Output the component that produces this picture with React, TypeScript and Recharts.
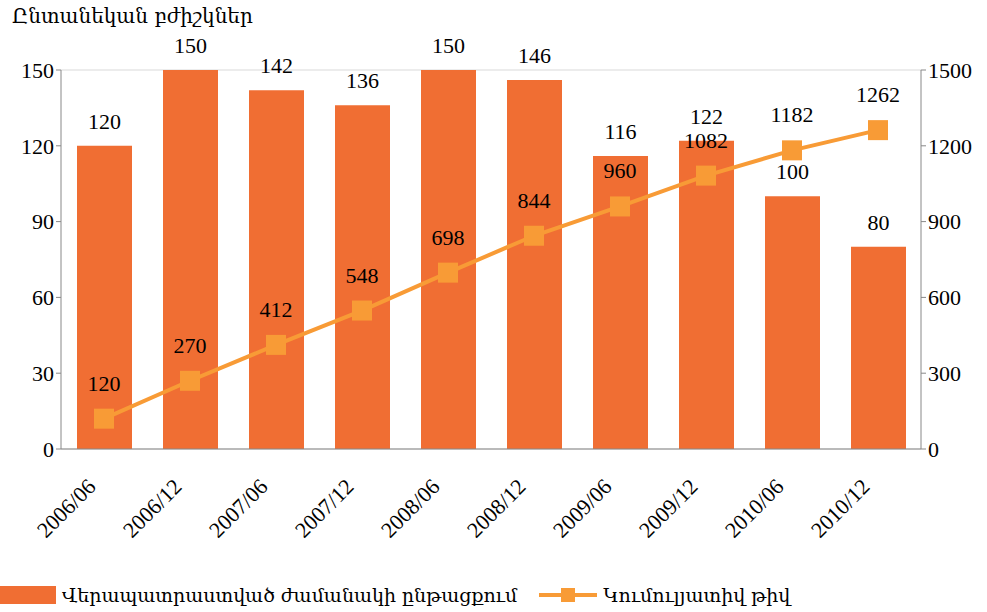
import React from "react";
import { Bar, CartesianGrid, ComposedChart, LabelList, Legend, Line, XAxis, YAxis } from "recharts";

const periods = ["2006/06", "2006/12", "2007/06", "2007/12", "2008/06", "2008/12", "2009/06", "2009/12", "2010/06", "2010/12"];
const trained = [120, 150, 142, 136, 150, 146, 116, 122, 100, 80];
const cumulative = [120, 270, 412, 548, 698, 844, 960, 1082, 1182, 1262];
const leftTicks = [0, 30, 60, 90, 120, 150];
const rightTicks = [0, 300, 600, 900, 1200, 1500];
const edgeTicks = [0, 1, 2, 3, 4, 5, 6, 7, 8, 9, 10];

const title = "Ընտանեկան բժիշկներ";
const barName = "Վերապատրաստված ժամանակի ընթացքում";
const lineName = "Կումուլյատիվ թիվ";

const data = periods.map((p, i) => ({ period: p, trained: trained[i], cumulative: cumulative[i] }));

const FONT = "'Liberation Serif', 'DejaVu Serif', serif";
const ARM = "'DejaVu Serif', serif";
const BAR = "#F06E33";
const LINE = "#F89B36";

function LegendContent() {
  return (
    <div style={{ display: "flex", alignItems: "center", fontFamily: ARM, fontSize: 19, color: "#000" }}>
      <svg width={56} height={18} style={{ marginRight: 6 }}>
        <rect x={0} y={0} width={56} height={18} fill={BAR} />
      </svg>
      <span style={{ marginRight: 22 }}>{barName}</span>
      <svg width={58} height={18} style={{ marginRight: 6 }}>
        <line x1={0} y1={9} x2={58} y2={9} stroke={LINE} strokeWidth={4} />
        <rect x={22} y={2} width={14} height={14} fill={LINE} />
      </svg>
      <span>{lineName}</span>
    </div>
  );
}

export default function App() {
  return (
    <div style={{ position: "absolute", left: 0, top: 0, width: 987, height: 612, background: "#fff" }}>
      <div style={{ position: "absolute", left: 12, top: 4, fontFamily: ARM, fontSize: 20, color: "#000" }}>{title}</div>
      <ComposedChart width={987} height={612} data={data} margin={{ top: 70, right: 0, bottom: 0, left: 0 }}>
        <CartesianGrid vertical={false} stroke="#d9d9d9" />
        <XAxis
          dataKey="period"
          interval={0}
          angle={-45}
          textAnchor="end"
          height={123}
          tickLine={false}
          axisLine={{ stroke: "#888" }}
          tick={{ fill: "#000", fontSize: 22, fontFamily: FONT, dx: -18 }}
          tickMargin={22}
        />
        <XAxis
          xAxisId="edges"
          type="number"
          domain={[0, 10]}
          ticks={edgeTicks}
          allowDataOverflow
          axisLine={false}
          tick={false}
          tickLine={{ stroke: "#888" }}
          tickSize={5}
          height={0}
          orientation="bottom"
        />
        <YAxis
          yAxisId="left"
          domain={[0, 150]}
          ticks={leftTicks}
          width={61}
          axisLine={{ stroke: "#888" }}
          tickLine={{ stroke: "#888" }}
          tickSize={5}
          tick={{ fill: "#000", fontSize: 22, fontFamily: FONT }}
        />
        <YAxis
          yAxisId="right"
          orientation="right"
          domain={[0, 1500]}
          ticks={rightTicks}
          width={66}
          axisLine={{ stroke: "#888" }}
          tickLine={{ stroke: "#888" }}
          tickSize={5}
          tick={{ fill: "#000", fontSize: 22, fontFamily: FONT }}
        />
        <Legend verticalAlign="bottom" align="left" height={40} content={<LegendContent />} wrapperStyle={{ left: 0, bottom: -12 }} />
        <Bar yAxisId="left" dataKey="trained" name={barName} fill={BAR} barSize={55} isAnimationActive={false}>
          <LabelList dataKey="trained" position="top" offset={17} fill="#000" fontSize={22} fontFamily={FONT} />
        </Bar>
        <Line
          yAxisId="right"
          dataKey="cumulative"
          name={lineName}
          stroke={LINE}
          strokeWidth={4}
          isAnimationActive={false}
          dot={(props: any) => (
            <rect key={props.index} x={props.cx - 10} y={props.cy - 10} width={20} height={20} fill={LINE} />
          )}
        >
          <LabelList dataKey="cumulative" position="top" offset={28} fill="#000" fontSize={22} fontFamily={FONT} />
        </Line>
      </ComposedChart>
    </div>
  );
}
